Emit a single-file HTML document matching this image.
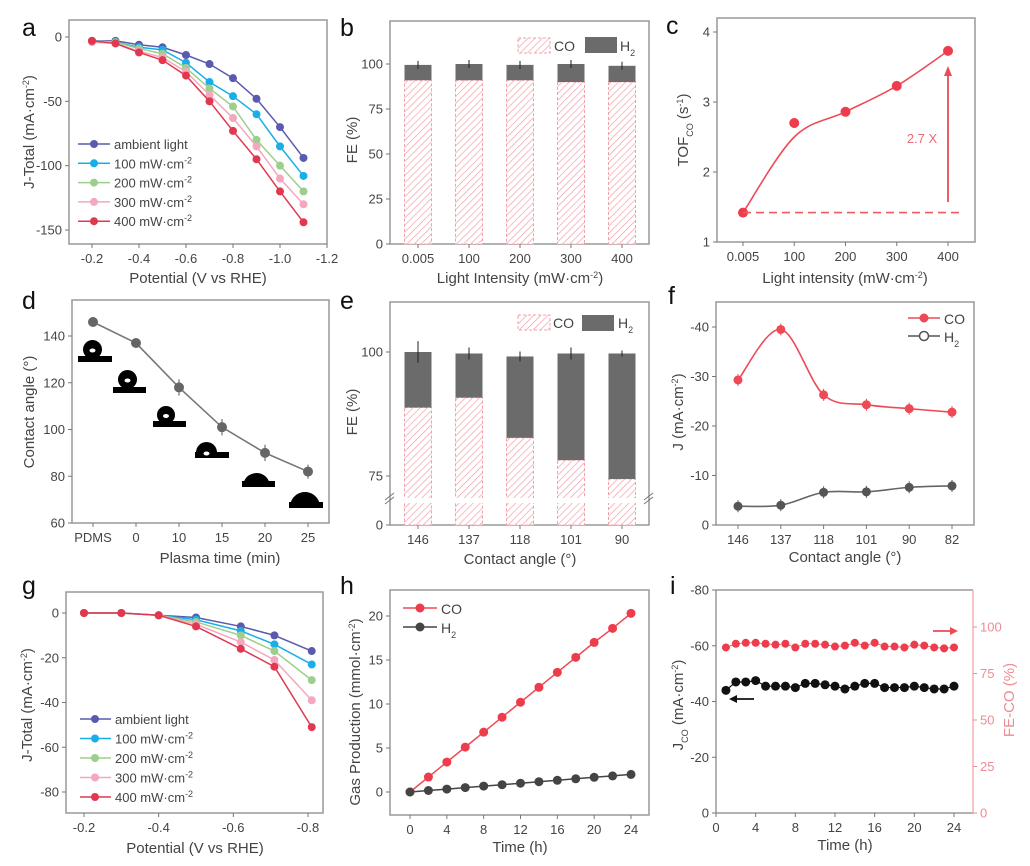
<!DOCTYPE html>
<html><head><meta charset="utf-8"><style>
html,body{margin:0;padding:0;background:#fff;}
svg{display:block;font-family:"Liberation Sans",Arial,sans-serif;}
</style></head><body>
<svg id="fig" width="1030" height="866" viewBox="0 0 1030 866">
<defs>
<pattern id="hatch" patternUnits="userSpaceOnUse" width="5" height="5" patternTransform="rotate(45)">
<rect width="5" height="5" fill="#fff"/><line x1="0" y1="0" x2="0" y2="5" stroke="#f3a0a8" stroke-width="1.4"/>
</pattern>
</defs>
</svg>
<script>
// ---------- DATA ----------
const aX=[-0.2,-0.3,-0.4,-0.5,-0.6,-0.7,-0.8,-0.9,-1.0,-1.1];
const aAmb=[-3,-3,-6,-8,-14,-21,-32,-48,-70,-94];
const a100=[-3,-4,-8,-10,-20,-35,-46,-60,-85,-108];
const a200=[-3,-4,-9,-13,-24,-40,-54,-80,-100,-120];
const a300=[-4,-5,-11,-16,-27,-45,-63,-85,-110,-130];
const a400=[-3,-5,-12,-18,-30,-50,-73,-95,-120,-144];
const aXTicks=[-0.2,-0.4,-0.6,-0.8,-1.0,-1.2];
const aXTickLabels=['-0.2','-0.4','-0.6','-0.8','-1.0','-1.2'];
const aYTicks=[0,-50,-100,-150];
const seriesNames=['ambient light','100 mW·cm','200 mW·cm','300 mW·cm','400 mW·cm'];

const bCats=['0.005','100','200','300','400'];
const bCO=[91,91,91,90,90];
const bH2=[8.5,9,8.5,10,9];
const bYTicks=[0,25,50,75,100];

const cX=[0.005,100,200,300,400];
const cY=[1.42,2.7,2.86,3.23,3.73];
const cXTicks=[0,100,200,300,400];
const cXTickLabels=['0.005','100','200','300','400'];
const cYTicks=[1,2,3,4];

const dCats=['PDMS','0','10','15','20','25'];
const dY=[146,137,118,101,90,82];
const dErr=[2,2,3.5,3.5,3.5,3];
const dYTicks=[60,80,100,120,140];

const eCats=['146','137','118','101','90'];
const eCO=[88.8,90.8,82.7,78.2,74.4];
const eTot=[100,99.7,99.1,99.7,99.7];
const eErr=[2.2,1.2,1,1.2,0.6];
const eYTicks=[0,75,100];

const fCats=['146','137','118','101','90','82'];
const fCO=[-29.3,-39.5,-26.3,-24.3,-23.5,-22.8];
const fH2=[-3.8,-4.0,-6.6,-6.7,-7.6,-7.9];
const fYTicks=[0,-10,-20,-30,-40];

const gX=[-0.2,-0.3,-0.4,-0.5,-0.62,-0.71,-0.81];
const gAmb=[0,0,-1,-2,-6,-10,-17];
const g100=[0,0,-1,-3,-8,-14,-23];
const g200=[0,0,-1,-4,-10,-17,-30];
const g300=[0,0,-1,-5,-13,-21,-39];
const g400=[0,0,-1,-6,-16,-24,-51];
const gXTicks=[-0.2,-0.4,-0.6,-0.8];
const gYTicks=[0,-20,-40,-60,-80];

const hT=[0,2,4,6,8,10,12,14,16,18,20,22,24];
const hCO=[0,1.7,3.4,5.1,6.8,8.5,10.2,11.9,13.6,15.3,17.0,18.6,20.3];
const hH2=[0,0.17,0.33,0.5,0.67,0.83,1.0,1.17,1.33,1.5,1.67,1.83,2.0];
const hXTicks=[0,4,8,12,16,20,24];
const hYTicks=[0,5,10,15,20];

const iT=[1,2,3,4,5,6,7,8,9,10,11,12,13,14,15,16,17,18,19,20,21,22,23,24];
const iJ=[-44,-47,-47,-47.5,-45.5,-45.5,-45.5,-45,-46.5,-46.5,-46,-45.5,-44.5,-45.5,-46.5,-46.5,-45,-45,-45,-45.5,-45,-44.5,-44.5,-45.5];
const iFE=[89,91,91.5,91.5,91,90.5,91,89,91,91,90.5,89.5,90,91.5,90,91.5,89.5,89.5,89,90.5,90,89,88.5,89];
const iXTicks=[0,4,8,12,16,20,24];
const iYTicks=[0,-20,-40,-60,-80];
const iRTicks=[0,25,50,75,100];

// ---------- HELPERS ----------
const NS='http://www.w3.org/2000/svg';
const svg=document.getElementById('fig');
function mk(tag,attrs,name,parent){
  const e=document.createElementNS(NS,tag);
  for(const k in attrs) e.setAttribute(k,attrs[k]);
  
  
  (parent||svg).appendChild(e);
  return e;
}
function txt(x,y,html,name,opt){
  opt=opt||{};
  const a={x:x,y:y,'font-size':opt.size||13,fill:opt.fill||'#444','text-anchor':opt.anchor||'middle'};
  if(opt.rot) a.transform='rotate(-90 '+x+' '+y+')';
  if(opt.weight) a['font-weight']=opt.weight;
  const e=mk('text',a,name);
  e.innerHTML=html;
  return e;
}
const L=(d0,d1,p0,p1)=>v=>p0+(v-d0)*(p1-p0)/(d1-d0);
const SUP=s=>'<tspan baseline-shift="super" font-size="9">'+s+'</tspan>';
const SUB=s=>'<tspan baseline-shift="sub" font-size="9">'+s+'</tspan>';
function frame(x0,y0,x1,y1,name){
  mk('rect',{x:x0,y:y0,width:x1-x0,height:y1-y0,fill:'none',stroke:'#999','stroke-width':1.5},name);
}
function yTicks(x0,vals,labels,yf,name,col,right){
  vals.forEach((v,i)=>{
    const y=yf(v);
    const dx=right?4:-4;
    mk('line',{x1:x0,x2:x0+dx,y1:y,y2:y,stroke:col||'#777','stroke-width':1},name+'-tick');
    txt(right?x0+7:x0-7,y+4.5,labels[i],name+'-label',{anchor:right?'start':'end',fill:col||'#444'});
  });
}
function xTicks(y1,vals,labels,xf,name){
  vals.forEach((v,i)=>{
    const x=xf(v);
    mk('line',{x1:x,x2:x,y1:y1,y2:y1+4,stroke:'#777','stroke-width':1},name+'-tick');
    txt(x,y1+19,labels[i],name+'-label');
  });
}
function poly(xs,ys,col,name,w){
  mk('polyline',{points:xs.map((x,i)=>x+','+ys[i]).join(' '),fill:'none',stroke:col,'stroke-width':w||1.5},name);
}
function smooth(xs,ys,col,name){
  let d='M'+xs[0]+','+ys[0];
  for(let i=0;i<xs.length-1;i++){
    const x0=xs[Math.max(i-1,0)],y0=ys[Math.max(i-1,0)];
    const x3=xs[Math.min(i+2,xs.length-1)],y3=ys[Math.min(i+2,ys.length-1)];
    const c1x=xs[i]+(xs[i+1]-x0)/6,c1y=ys[i]+(ys[i+1]-y0)/6;
    const c2x=xs[i+1]-(x3-xs[i])/6,c2y=ys[i+1]-(y3-ys[i])/6;
    d+=' C'+c1x+','+c1y+' '+c2x+','+c2y+' '+xs[i+1]+','+ys[i+1];
  }
  mk('path',{d:d,fill:'none',stroke:col,'stroke-width':1.6},name);
}
function dots(xs,ys,col,r,name){
  xs.forEach((x,i)=>mk('circle',{cx:x,cy:ys[i],r:r,fill:col},name));
}
function letter(x,y,s){ txt(x,y,s,'panel-label-'+s,{size:25,fill:'#111',anchor:'start'}); }

const cols=['#5a5aae','#1aaee8','#9dcf8c','#f3a8bd','#e0384f'];

// ---------- PANEL A ----------
letter(22,36,'a');
frame(69,20,327,244,'panel-a-frame');
{
  const xf=L(-0.2,-1.2,92,327), yf=L(0,-150,37,230);
  yTicks(69,aYTicks,aYTicks.map(String),yf,'a-y');
  xTicks(244,aXTicks,aXTickLabels,xf,'a-x');
  [aAmb,a100,a200,a300,a400].forEach((s,k)=>{
    const xs=aX.map(xf), ys=s.map(yf);
    poly(xs,ys,cols[k],'a-line-'+k);
    dots(xs,ys,cols[k],4,'a-point-'+k);
    const ly=144+k*19.3;
    mk('line',{x1:78,x2:110,y1:ly,y2:ly,stroke:cols[k],'stroke-width':1.5},'a-legend-line');
    mk('circle',{cx:94,cy:ly,r:4,fill:cols[k]},'a-legend-marker');
    txt(114,ly+5,k==0?seriesNames[0]:seriesNames[k]+SUP('-2'),'a-legend-text',{anchor:'start',size:13});
  });
  txt(198,283,'Potential (V vs RHE)','a-x-title',{size:15});
  txt(34,132,'J-Total (mA·cm'+SUP('-2')+')','a-y-title',{size:15,rot:1});
}

// ---------- PANEL B ----------
letter(340,36,'b');
frame(390,21,649,244,'panel-b-frame');
{
  const xf=L(0,4,418,622), yf=L(0,100,244,64);
  yTicks(390,bYTicks,bYTicks.map(String),yf,'b-y');
  xTicks(244,[0,1,2,3,4],bCats,xf,'b-x');
  bCats.forEach((c,i)=>{
    const x=xf(i)-13.5;
    mk('rect',{x:x,y:yf(bCO[i]),width:27,height:yf(0)-yf(bCO[i]),fill:'url(#hatch)',stroke:'#f3a0a8','stroke-dasharray':'3,2'},'b-bar-co');
    mk('rect',{x:x,y:yf(bCO[i]+bH2[i]),width:27,height:yf(bCO[i])-yf(bCO[i]+bH2[i]),fill:'#6b6b6b'},'b-bar-h2');
    const t=yf(bCO[i]+bH2[i]);
    mk('line',{x1:xf(i),x2:xf(i),y1:t-4,y2:t+4,stroke:'#222'},'b-errorbar');
  });
  mk('rect',{x:518,y:38,width:32,height:15,fill:'url(#hatch)',stroke:'#f3a0a8','stroke-dasharray':'3,2'},'b-legend-co-swatch');
  txt(554,51,'CO','b-legend-co',{anchor:'start',size:14});
  mk('rect',{x:585,y:37,width:32,height:16,fill:'#6b6b6b'},'b-legend-h2-swatch');
  txt(620,51,'H'+SUB('2'),'b-legend-h2',{anchor:'start',size:14});
  txt(520,283,'Light Intensity (mW·cm'+SUP('-2')+')','b-x-title',{size:15});
  txt(357,140,'FE (%)','b-y-title',{size:15,rot:1});
}

// ---------- PANEL C ----------
letter(666,34,'c');
frame(717,18,975,242,'panel-c-frame');
{
  const xf=L(0,400,743,948), yf=L(1,4,242,32);
  yTicks(717,cYTicks,cYTicks.map(String),yf,'c-y');
  xTicks(242,cXTicks,cXTickLabels,xf,'c-x');
  const xs=cX.map(xf), ys=cY.map(yf);
  const fitY=[cY[0],cY[1]-0.2,cY[2],cY[3],cY[4]].map(yf);
  smooth(xs,fitY,'#ee4a55','c-fit-curve');
  dots(xs,ys,'#ee3c4c',5,'c-point');
  mk('line',{x1:xs[0],x2:962,y1:yf(cY[0]),y2:yf(cY[0]),stroke:'#ee5a65','stroke-width':1.6,'stroke-dasharray':'8,5'},'c-baseline');
  mk('line',{x1:xs[4],x2:xs[4],y1:202,y2:72,stroke:'#ee4a55','stroke-width':1.8},'c-arrow-shaft');
  mk('path',{d:'M'+(xs[4]-4)+',76 L'+xs[4]+',66 L'+(xs[4]+4)+',76Z',fill:'#ee4a55'},'c-arrow-head');
  txt(922,143,'2.7 X','c-annotation',{size:13,fill:'#ee6a75'});
  txt(845,283,'Light intensity (mW·cm'+SUP('-2')+')','c-x-title',{size:15});
  txt(688,130,'TOF'+SUB('CO')+' (s'+SUP('-1')+')','c-y-title',{size:15,rot:1});
}

// ---------- PANEL D ----------
letter(22,309,'d');
frame(72,300,329,523,'panel-d-frame');
{
  const xf=L(0,5,93,308), yf=L(60,140,523,336);
  yTicks(72,dYTicks,dYTicks.map(String),yf,'d-y');
  xTicks(523,[0,1,2,3,4,5],dCats,xf,'d-x');
  const drops=[[83,102,340,356,78,112,362],[118,137,370,387,113,146,393],[157,175,406,421,153,186,427],[196,217,442,452,195,229,458],[243,270,473,481,242,275,487],[290,320,492,502,289,323,508]];
  drops.forEach((g,i)=>{
    const r=(g[1]-g[0])/2, cx=(g[0]+g[1])/2, cy=g[2]+r, yb=g[3];
    const dd=Math.min(Math.abs(yb-cy),r-0.5);
    const w=Math.sqrt(r*r-dd*dd);
    const large=yb>cy?1:0;
    mk('path',{d:'M'+(cx-w)+','+yb+' A'+r+','+r+' 0 '+large+' 1 '+(cx+w)+','+yb+'Z',fill:'#000'},'d-droplet-icon');
    mk('rect',{x:g[4],y:g[3],width:g[5]-g[4],height:g[6]-g[3],fill:'#000'},'d-substrate-icon');
    if(i<4) mk('ellipse',{cx:cx,cy:cy+1,rx:3,ry:2,fill:'#fff'},'d-droplet-highlight');
  });
  const xs=dY.map((v,i)=>xf(i)), ys=dY.map(yf);
  poly(xs,ys,'#777','d-line',1.6);
  dY.forEach((v,i)=>mk('line',{x1:xs[i],x2:xs[i],y1:yf(v+dErr[i]),y2:yf(v-dErr[i]),stroke:'#555'},'d-errorbar'));
  dots(xs,ys,'#666',5,'d-point');
  txt(220,563,'Plasma time (min)','d-x-title',{size:15});
  txt(34,412,'Contact angle (°)','d-y-title',{size:15,rot:1});
}

// ---------- PANEL E ----------
letter(340,309,'e');
frame(390,302,649,525,'panel-e-frame');
{
  const xf=L(0,4,418,622);
  const yf=v=>v>=70?476-(v-75)*4.96:525-v*(22/70);
  yTicks(390,eYTicks,eYTicks.map(String),yf,'e-y');
  xTicks(525,[0,1,2,3,4],eCats,xf,'e-x');
  eCats.forEach((c,i)=>{
    const x=xf(i)-13.5;
    mk('rect',{x:x,y:yf(eCO[i]),width:27,height:525-yf(eCO[i]),fill:'url(#hatch)',stroke:'#f3a0a8','stroke-dasharray':'3,2'},'e-bar-co');
    mk('rect',{x:x,y:yf(eTot[i]),width:27,height:yf(eCO[i])-yf(eTot[i]),fill:'#6b6b6b'},'e-bar-h2');
    mk('line',{x1:xf(i),x2:xf(i),y1:yf(eTot[i]+eErr[i]),y2:yf(eTot[i]-eErr[i]),stroke:'#222'},'e-errorbar');
  });
  mk('rect',{x:391,y:498,width:257,height:5,fill:'#fff'},'e-axis-break-band');
  mk('path',{d:'M385,504 L394,497 M385,500 L394,493',stroke:'#777',fill:'none'},'e-axis-break-mark');
  mk('path',{d:'M644,504 L653,497 M644,500 L653,493',stroke:'#777',fill:'none'},'e-axis-break-mark-right');
  mk('rect',{x:518,y:315,width:32,height:15,fill:'url(#hatch)',stroke:'#f3a0a8','stroke-dasharray':'3,2'},'e-legend-co-swatch');
  txt(553,328,'CO','e-legend-co',{anchor:'start',size:14});
  mk('rect',{x:582,y:315,width:32,height:16,fill:'#6b6b6b'},'e-legend-h2-swatch');
  txt(618,328,'H'+SUB('2'),'e-legend-h2',{anchor:'start',size:14});
  txt(520,564,'Contact angle (°)','e-x-title',{size:15});
  txt(357,412,'FE (%)','e-y-title',{size:15,rot:1});
}

// ---------- PANEL F ----------
letter(668,304,'f');
frame(716,302,974,525,'panel-f-frame');
{
  const xf=L(0,5,738,952), yf=L(0,-40,525,327);
  yTicks(716,fYTicks,fYTicks.map(String),yf,'f-y');
  xTicks(525,[0,1,2,3,4,5],fCats,xf,'f-x');
  const xs=fCats.map((c,i)=>xf(i));
  smooth(xs,fCO.map(yf),'#ee4a55','f-co-curve');
  smooth(xs,fH2.map(yf),'#666','f-h2-curve');
  xs.forEach((x,i)=>{
    mk('line',{x1:x,x2:x,y1:yf(fCO[i])-6,y2:yf(fCO[i])+6,stroke:'#ee4a55'},'f-co-errorbar');
    mk('line',{x1:x,x2:x,y1:yf(fH2[i])-6,y2:yf(fH2[i])+6,stroke:'#555'},'f-h2-errorbar');
  });
  dots(xs,fCO.map(yf),'#ee4a55',4.5,'f-co-point');
  dots(xs,fH2.map(yf),'#555',4.5,'f-h2-point');
  mk('line',{x1:908,x2:940,y1:318,y2:318,stroke:'#ee4a55','stroke-width':1.6},'f-legend-co-line');
  mk('circle',{cx:924,cy:318,r:4.5,fill:'#ee4a55'},'f-legend-co-marker');
  txt(944,324,'CO','f-legend-co',{anchor:'start',size:14});
  mk('line',{x1:908,x2:940,y1:336,y2:336,stroke:'#555','stroke-width':1.6},'f-legend-h2-line');
  mk('circle',{cx:924,cy:336,r:4.5,fill:'#fff',stroke:'#555','stroke-width':1.5},'f-legend-h2-marker');
  txt(944,342,'H'+SUB('2'),'f-legend-h2',{anchor:'start',size:14});
  txt(845,562,'Contact angle (°)','f-x-title',{size:15});
  txt(683,412,'J (mA·cm'+SUP('-2')+')','f-y-title',{size:15,rot:1});
}

// ---------- PANEL G ----------
letter(22,594,'g');
frame(66,592,323,813,'panel-g-frame');
{
  const xf=L(-0.2,-0.8,84,308), yf=L(0,-80,613,792);
  yTicks(66,gYTicks,gYTicks.map(String),yf,'g-y');
  xTicks(813,gXTicks,gXTicks.map(v=>v.toFixed(1)),xf,'g-x');
  [gAmb,g100,g200,g300,g400].forEach((s,k)=>{
    const xs=gX.map(xf), ys=s.map(yf);
    poly(xs,ys,cols[k],'g-line-'+k);
    dots(xs,ys,cols[k],4,'g-point-'+k);
    const ly=719+k*19.5;
    mk('line',{x1:80,x2:111,y1:ly,y2:ly,stroke:cols[k],'stroke-width':1.5},'g-legend-line');
    mk('circle',{cx:95,cy:ly,r:4,fill:cols[k]},'g-legend-marker');
    txt(115,ly+5,k==0?seriesNames[0]:seriesNames[k]+SUP('-2'),'g-legend-text',{anchor:'start',size:13});
  });
  txt(195,853,'Potential (V vs RHE)','g-x-title',{size:15});
  txt(32,705,'J-Total (mA·cm'+SUP('-2')+')','g-y-title',{size:15,rot:1});
}

// ---------- PANEL H ----------
letter(340,594,'h');
frame(390,590,649,815,'panel-h-frame');
{
  const xf=L(0,24,410,631), yf=L(0,20,792,616);
  yTicks(390,hYTicks,hYTicks.map(String),yf,'h-y');
  xTicks(815,hXTicks,hXTicks.map(String),xf,'h-x');
  const xs=hT.map(xf);
  poly(xs,hCO.map(yf),'#ee4a55','h-co-line');
  poly(xs,hH2.map(yf),'#444','h-h2-line');
  dots(xs,hCO.map(yf),'#ee3c4c',4.5,'h-co-point');
  dots(xs,hH2.map(yf),'#444',4.5,'h-h2-point');
  mk('line',{x1:403,x2:437,y1:608,y2:608,stroke:'#ee4a55','stroke-width':1.6},'h-legend-co-line');
  mk('circle',{cx:420,cy:608,r:4.5,fill:'#ee3c4c'},'h-legend-co-marker');
  txt(441,614,'CO','h-legend-co',{anchor:'start',size:14});
  mk('line',{x1:403,x2:437,y1:627,y2:627,stroke:'#444','stroke-width':1.6},'h-legend-h2-line');
  mk('circle',{cx:420,cy:627,r:4.5,fill:'#444'},'h-legend-h2-marker');
  txt(441,633,'H'+SUB('2'),'h-legend-h2',{anchor:'start',size:14});
  txt(520,852,'Time (h)','h-x-title',{size:15});
  txt(360,712,'Gas Production (mmol·cm'+SUP('-2')+')','h-y-title',{size:15,rot:1});
}

// ---------- PANEL I ----------
letter(670,594,'i');
mk('line',{x1:716,x2:973,y1:590,y2:590,stroke:'#999','stroke-width':1.5},'i-frame-top');
mk('line',{x1:716,x2:716,y1:590,y2:813,stroke:'#999','stroke-width':1.5},'i-axis-left');
mk('line',{x1:716,x2:973,y1:813,y2:813,stroke:'#999','stroke-width':1.5},'i-axis-bottom');
mk('line',{x1:973,x2:973,y1:590,y2:813,stroke:'#f6b0b8','stroke-width':1.5},'i-axis-right');
{
  const xf=L(0,24,716,954), yl=L(0,-80,813,590), yr=L(0,100,813,627);
  yTicks(716,iYTicks,iYTicks.map(String),yl,'i-y-left');
  yTicks(973,iRTicks,iRTicks.map(String),yr,'i-y-right','#f08a95',true);
  xTicks(813,iXTicks,iXTicks.map(String),xf,'i-x');
  const xs=iT.map(xf);
  poly(xs,iJ.map(yl),'#111','i-j-line',1.2);
  dots(xs,iJ.map(yl),'#111',4.5,'i-j-point');
  poly(xs,iFE.map(yr),'#ee4a55','i-fe-line',0.8);
  dots(xs,iFE.map(yr),'#ee3c4c',4,'i-fe-point');
  mk('line',{x1:735,x2:754,y1:699,y2:699,stroke:'#111','stroke-width':1.8},'i-left-arrow');
  mk('path',{d:'M737,695 L729,699 L737,703Z',fill:'#111'},'i-left-arrow-head');
  mk('line',{x1:933,x2:952,y1:631,y2:631,stroke:'#ee4a55','stroke-width':1.8},'i-right-arrow');
  mk('path',{d:'M950,627 L958,631 L950,635Z',fill:'#ee4a55'},'i-right-arrow-head');
  txt(845,850,'Time (h)','i-x-title',{size:15});
  txt(683,705,'J'+SUB('CO')+' (mA·cm'+SUP('-2')+')','i-y-left-title',{size:15,rot:1});
  txt(1014,700,'FE-CO (%)','i-y-right-title',{size:15,rot:1,fill:'#f08a95'});
}
</script>
</body></html>
